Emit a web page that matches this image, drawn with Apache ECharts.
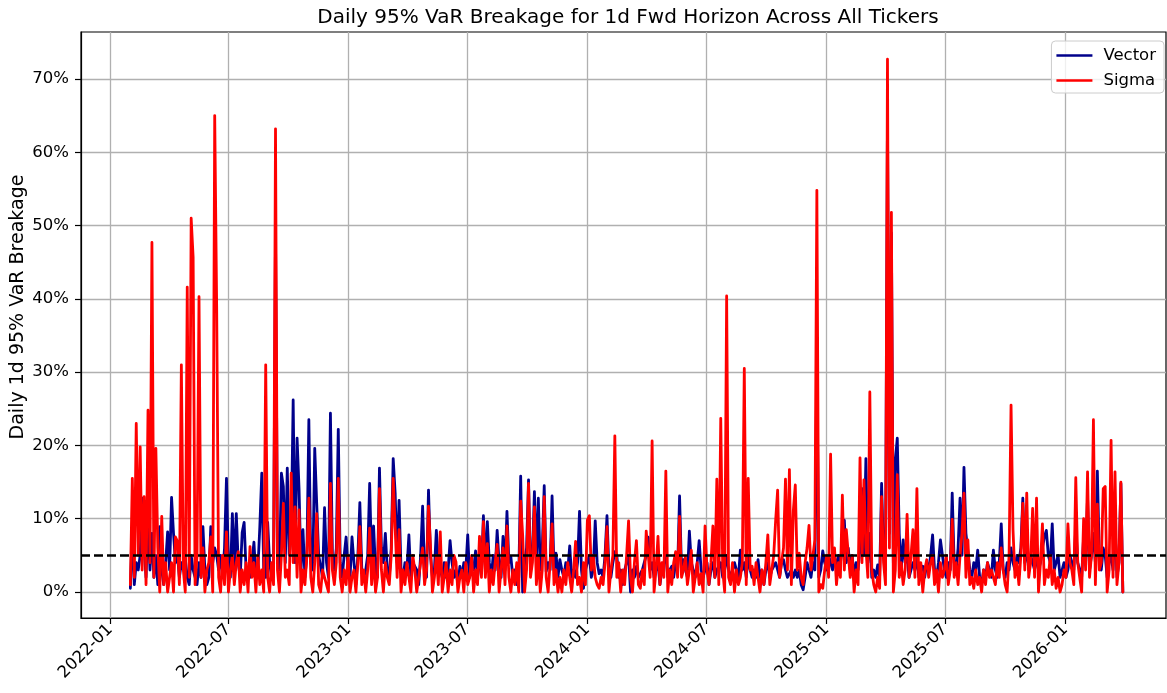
<!DOCTYPE html>
<html><head><meta charset="utf-8">
<script src="https://cdn.jsdelivr.net/npm/echarts@6/dist/echarts.min.js"></script>
<style>html,body{margin:0;padding:0;background:#fff}#c{width:1167px;height:693px}</style>
</head><body><div id="c"></div>
<script>
// first observation date and spacing (days) between observations
const startDate = [2022, 2, 1];
const stepDays = 3;
const xTickLabels = ['2022-01','2022-07','2023-01','2023-07','2024-01','2024-07','2025-01','2025-07','2026-01'];
const yTickValues = [0, 10, 20, 30, 40, 50, 60, 70];
const seriesNames = ['Vector', 'Sigma'];
const breachLevel = 5;

// Sigma breakage (%)
const sigma = [
1,15.5,2,23,5,19.8,3,13,1,24.8,4,47.7,2,19.6,6,0,10.3,1,4,0,
2,4,0,7.5,6.9,1,31,3,0,41.6,2,51,45.7,1,5,40.3,2,6,0,3,
4,7.5,0,65,39,2,0,5,1,8.2,0,3,5,1,4,5.5,0,3,1,4,
0,6.2,2,4,0,5,1,3,0,31,2,0,4,1,63.2,3,0,5,12.1,2,
3,1,16.2,4,11.6,2,11.2,0,3,1,5,12.8,2,0,4,10.7,1,0,3,2,
2,0,14.8,3,1,4,15.5,2,0,3,1,5,0,2,3,0,4,8.9,1,3,
0,3,8.7,1,5,0,2,14.1,3,0,4,2,1,5,15.5,15.3,2,8.5,0,3,
1,4,2,0,5,3,0,2,4,6,1,3,11.7,6.4,0,2,5,1,8.2,0,
2,4,0,3,1,5,4.1,0,2,3,0,4,1,2,5,0,3,1,7.6,2,
9.6,2,6.6,0,3,1,4,6.5,0,3,6,1,9,2,0,3,1,4,0,12.4,
7.8,0,3,14.8,2,4,11.6,1,5,0,3,13,2,0,4,9.3,1,3,0,2,
0,3,1,4,2,0,3,6.9,1,2,0,4,1,9.8,10.4,3,5,2,1,0.5,
2,1,4,8.9,0,3,5,21.3,2,4,0,3,1,5,9.7,2,0,4,7,1,
0.5,3,1,8.3,8.2,2,20.6,0,3,7.6,1,4,2,16.5,0,3,1,4,5.5,2,
10.3,2,3,4.8,1,3,5.7,0,2,4,1,2.5,0,9,3,1,4,9,2,15.4,
1,23.7,3,0,40.4,2,1,4,0,3,1,2,4,30.5,1,15.5,3,3.5,1,4,
2,0,3,1,4,7.8,1,3,5,9.8,13.9,2,4,6,15.4,3,16.7,1,11.1,14.6,
3,5.3,2,1,4,6,9.1,3,5,7.1,54.8,0,1,0.5,3,5,2,18.8,4,6,
1,4,2,13.2,3,8.5,8.5,2,5,0,3,1,18.3,4,15.3,6,2,27.3,3,1,
0,2,0.5,13,4,1,72.7,6,51.8,0,3,16,2,4,1,3,10.6,2,5,8.5,
2,14.1,1,4,0,3,4.4,2,4,5,1,3,0,4,2,3,5,1,3,9.9,
2,4,1,5,8,13.5,2,7.1,1,2,0.5,3,1,2,0,3,1,4,2,3,
3,1,4,2,6,3,1,0,5,25.5,8.5,2,4,1,5,12.1,3,13.5,2,4,
11.4,2,12.8,0,4,9.3,1,3,2,5,1,3,0.5,2,0,1,3,2,9.3,4,
3,1,15.6,4,2,0,10,3,16.4,2,5,23.5,1,12,3,4,14.1,14.4,0,3,
20.7,2,16.4,1,4,15,0
];

// Vector breakage (%)
const vector = [
0.5,9,1,4,3,5,12.8,6,2,10,3,8,2,5,1,8.9,3,1,4,8.2,
3,12.9,8,4,5,2,4,3,4.6,2,1,5,3,2,1,4,2,8.9,3,1,
2,8.9,4,6,5,3,5,2,6,15.5,4,2,10.7,3,10.7,4,2,8.1,9.5,3,
3,2,4,6.8,2,3,8.9,16.2,3,2,9.5,4,2,3,49,5.3,3,16.2,14.4,4,
16.9,5,8,26.2,4,21,14.1,3,8.5,2,5,23.5,4,3,19.6,12.1,5,3.5,2,11.5,
4,2,24.4,5,3,6,22.2,4,2,5,7.5,3,2,7.5,4,1,5,12.2,3,2,
3,5,14.8,4,9,3,2,16.9,6,4,8,3,2,6,18.2,13.5,4,12.5,3,2,
4,3,7.8,2,4,4.1,3,1,5,11.7,3,2,13.9,5,2,3,8.4,4,3,2,
4,2,3,7,4,2,3,1,3.5,2,4,3,7.8,2,4,3,5.6,2,4,3,
10.4,3,9.6,4,2,5,3,8.4,4,2,7.6,3,11,4,4.8,2,3,1,2,15.8,
0,4,6,15.3,3,5,13.7,4,12.8,3,6,14.5,2.8,4,3,13.1,3,5.3,2,4.4,
3,2,4,3,6.3,2,3,2,4,11,3,0.5,3,4,5,2,3,9.7,4,2.5,
3,2,5,10.4,3,2,4,5.5,5,2,3,1,3,4,5,0,3,2,3.5,2,
2,3,4,5,7.5,3,4,2,3,4,1,3,4,5,2,3,3.5,2,4,3,
13.1,3,4.4,3,2,8.3,4,3,2,4,7,3,2,3,4,1,3,4,2,3,
3,4,2,3,5,3,2,2,4,3,2,5.7,3,4,2,5,3,2,3,2,
4.4,2,3,1,3,4,2,3,3.5,4,3,2,4,4.4,3,2,2,3,2,3,
2,3,1,0.3,2,4,3,2,4,3,32,2,3,5.6,4,3,5,4,3,5,
3,5,4,6,9.8,4,6,3,5,2,4,3,6,14.1,5,18.2,4,8,2,3,
2,3.7,2,14.8,5,3,65,8,49,4,18,21,7.9,3,7.1,4,5,2,3,4,
3,5,2,3,3.5,2,4,3,5,7.8,3,2,4,7.1,7.1,3,2,4,3,13.5,
4,3,6,12.8,5,17,8,7.8,3,2,4,3,5.7,2,1,3,2,4,3,2,
5.7,3,2,4,9.3,3,2,4,3,6,4,3,5,4,6,12.8,4,6,3,5,
4,3,5,3,4,6,7.5,8.4,5,4,9.3,3,4,5,2,3,4,2,3,5,
4,3,9,4,3,2,7.5,4,13,3,5,8,4,16.5,5,3,6,5,2,4,
5,3,10,2,4,14.8,0
];

const DAY = 86400000;
const t0 = Date.UTC(startDate[0], startDate[1] - 1, startDate[2]);
const dates = sigma.map((_, i) => t0 + i * stepDays * DAY);
const xTicks = xTickLabels.map(s => { const p = s.split('-'); return Date.UTC(+p[0], +p[1] - 1, 1); });
const xMin = Date.UTC(2021, 10, 17, 12);
const xMax = Date.UTC(2026, 5, 4);
const pad2 = n => (n < 10 ? '0' : '') + n;
const FONT = 'DejaVu Sans';

const chart = echarts.init(document.getElementById('c'), null, {renderer: 'canvas'});
chart.setOption({
  animation: false,
  backgroundColor: '#ffffff',
  textStyle: {fontFamily: FONT, color: '#000'},
  title: {
    text: 'Daily 95% VaR Breakage for 1d Fwd Horizon Across All Tickers',
    left: 623, top: 3, textAlign: 'center',
    textStyle: {fontFamily: FONT, fontSize: 20, fontWeight: 'normal', color: '#000'}
  },
  legend: {
    data: seriesNames, orient: 'vertical', right: 3, top: 41,
    icon: 'rect', itemWidth: 36, itemHeight: 2.6, itemGap: 8,
    padding: [6, 8, 4, 5],
    borderColor: '#cccccc', borderWidth: 1, borderRadius: 4,
    backgroundColor: 'rgba(255,255,255,0.8)',
    textStyle: {fontFamily: FONT, fontSize: 16.5, color: '#000', padding: [0, 0, 0, 6]}
  },
  graphic: [{
    type: 'text', x: 18, y: 307, rotation: Math.PI / 2, silent: true,
    style: {text: 'Daily 1d 95% VaR Breakage', fontFamily: FONT, fontSize: 19, fill: '#000', align: 'center', verticalAlign: 'middle'}
  }],
  grid: {left: 81, right: 1, top: 32, bottom: 75, show: true, borderColor: '#000', borderWidth: 1.2, backgroundColor: 'transparent'},
  xAxis: {
    type: 'value', min: xMin, max: xMax, scale: true,
    axisLine: {show: true, onZero: false, lineStyle: {color: '#000', width: 1.2}},
    axisTick: {show: true, customValues: xTicks, length: 6, lineStyle: {color: '#000', width: 1.2}},
    axisLabel: {
      customValues: xTicks, rotate: 45, margin: 9, color: '#000', fontFamily: FONT, fontSize: 16.5,
      formatter: v => { const d = new Date(v); return d.getUTCFullYear() + '-' + pad2(d.getUTCMonth() + 1); }
    },
    splitLine: {show: true, lineStyle: {color: '#b0b0b0', width: 1.3}}
  },
  yAxis: {
    type: 'value', min: -3.55, max: 76.41,
    axisLine: {show: true, lineStyle: {color: '#000', width: 1.2}},
    axisTick: {show: true, customValues: yTickValues, length: 6, lineStyle: {color: '#000', width: 1.2}},
    axisLabel: {customValues: yTickValues, formatter: v => v + '%', color: '#000', fontFamily: FONT, fontSize: 16.5, margin: 12},
    splitLine: {show: true, lineStyle: {color: '#b0b0b0', width: 1.3}}
  },
  series: [
    {
      name: seriesNames[0], type: 'line', showSymbol: false, symbol: 'none',
      data: vector.map((v, i) => [dates[i], v]),
      lineStyle: {color: '#00008b', width: 2.8, join: 'round', cap: 'round'}, itemStyle: {color: '#00008b'}, z: 2
    },
    {
      name: seriesNames[1], type: 'line', showSymbol: false, symbol: 'none',
      data: sigma.map((v, i) => [dates[i], v]),
      lineStyle: {color: '#ff0000', width: 2.8, join: 'round', cap: 'round'}, itemStyle: {color: '#ff0000'}, z: 3,
      markLine: {
        silent: true, symbol: 'none', label: {show: false}, z: 5,
        lineStyle: {color: '#000', type: [9, 4], width: 2.5},
        data: [{yAxis: breachLevel}]
      }
    }
  ]
});
</script></body></html>
